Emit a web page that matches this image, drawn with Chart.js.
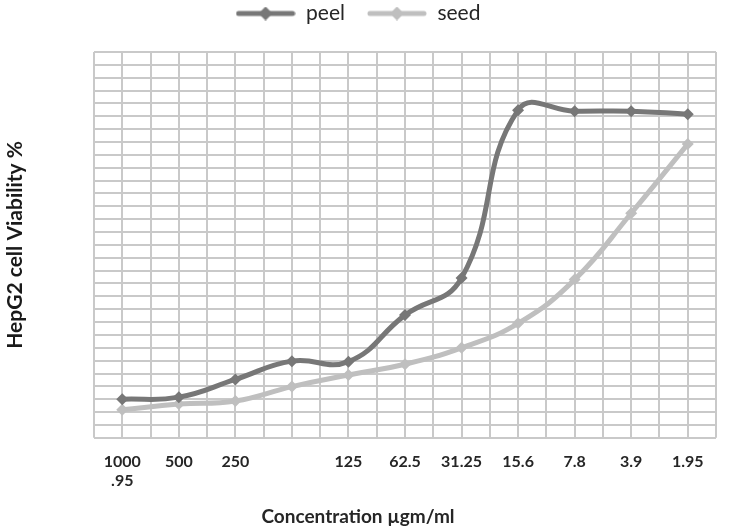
<!DOCTYPE html>
<html>
<head>
<meta charset="utf-8">
<script src="https://cdn.jsdelivr.net/npm/chart.js@4.4.1/dist/chart.umd.min.js"></script>
<style>
    html, body { margin: 0; padding: 0; background: #fff; }
</style>
</head>
<body>
<canvas id="chart" width="735" height="530"></canvas>
<script>
// concentrations (µgm/ml) and the labels as they appear under the axis
const categories = ['1000', '500', '250', '125', '62.5', '31.25', '15.6', '7.8', '3.9', '1.95', '.95'];
const tickLabels = [['1000', '.95'], '500', '250', '', '125', '62.5', '31.25', '15.6', '7.8', '3.9', '1.95'];

// viability (axis has no printed values)
const peelValues = [15.0, 15.8, 22.7, 29.8, 29.6, 47.7, 62.1, 127.4, 127.0, 127.0, 125.8];
const seedValues = [10.9, 13.1, 14.3, 19.9, 24.4, 28.6, 35.0, 44.5, 61.5, 87.3, 114.2];

const peelColor = '#777777';
const seedColor = '#bfbfbf';
const gridColor = '#c9c9c9';

// legend marker: short line with a diamond in the middle
function legendMarker(color) {
    const c = document.createElement('canvas');
    c.width = 60;
    c.height = 14;
    const g = c.getContext('2d');
    g.strokeStyle = color;
    g.lineWidth = 5;
    g.lineCap = 'round';
    g.beginPath();
    g.moveTo(3, 7);
    g.lineTo(57, 7);
    g.stroke();
    g.fillStyle = color;
    g.beginPath();
    g.moveTo(30, 0);
    g.lineTo(37, 7);
    g.lineTo(30, 14);
    g.lineTo(23, 7);
    g.closePath();
    g.fill();
    return c;
}
const markers = [legendMarker(peelColor), legendMarker(seedColor)];

const ctx = document.getElementById('chart');
new Chart(ctx, {
    type: 'line',
    data: {
        labels: categories,
        datasets: [{
            label: 'peel',
            data: peelValues,
            xAxisID: 'x',
            borderColor: peelColor,
            backgroundColor: peelColor,
            borderWidth: 5,
            pointStyle: 'rectRot',
            pointRadius: 6,
            pointBorderWidth: 0,
            pointBackgroundColor: peelColor,
            tension: 0.45,
            fill: false
        }, {
            label: 'seed',
            data: seedValues,
            xAxisID: 'x',
            borderColor: seedColor,
            backgroundColor: seedColor,
            borderWidth: 5,
            pointStyle: 'rectRot',
            pointRadius: 6,
            pointBorderWidth: 0,
            pointBackgroundColor: seedColor,
            tension: 0.45,
            fill: false
        }]
    },
    options: {
        responsive: false,
        animation: false,
        layout: { padding: { left: 0, right: 19, top: -19, bottom: 0 } },
        plugins: {
            tooltip: { enabled: false },
            legend: {
                position: 'top',
                labels: {
                    usePointStyle: true,
                    pointStyleWidth: 60,
                    padding: 22,
                    color: '#262626',
                    font: { family: 'Lato', size: 21 },
                    generateLabels: function (chart) {
                        const items = Chart.defaults.plugins.legend.labels.generateLabels(chart);
                        items.forEach(function (item, i) {
                            item.pointStyle = markers[i];
                        });
                        return items;
                    }
                }
            },
            title: {
                display: true,
                position: 'bottom',
                text: 'Concentration µgm/ml',
                color: '#262626',
                font: { family: 'Lato', size: 19, weight: 'bold' },
                padding: { top: 0, bottom: 2 }
            }
        },
        scales: {
            x: {
                type: 'category',
                offset: true,
                grid: { display: false, drawTicks: false },
                border: { display: false },
                ticks: {
                    autoSkip: false,
                    maxRotation: 0,
                    padding: 14.5,
                    color: '#262626',
                    font: { family: 'Lato', size: 16, weight: 'bold', lineHeight: 1.2 },
                    callback: function (value, index) {
                        return tickLabels[index];
                    }
                }
            },
            xg: {
                type: 'linear',
                axis: 'x',
                position: 'top',
                min: 0,
                max: 22,
                ticks: { display: false, stepSize: 1 },
                grid: { color: gridColor, lineWidth: 2, tickLength: 18, tickColor: 'rgba(0,0,0,0)' },
                border: { display: false }
            },
            y: {
                min: 0,
                max: 150,
                ticks: { display: false, stepSize: 5 },
                grid: { color: gridColor, lineWidth: 2, drawTicks: false },
                border: { display: false },
                title: {
                    display: true,
                    text: 'HepG2 cell Viability %',
                    color: '#1a1a1a',
                    font: { family: 'Lato', size: 21, weight: 'bold' },
                    padding: { top: 2.4, bottom: 66.4 }
                }
            }
        }
    }
});
</script>
</body>
</html>
